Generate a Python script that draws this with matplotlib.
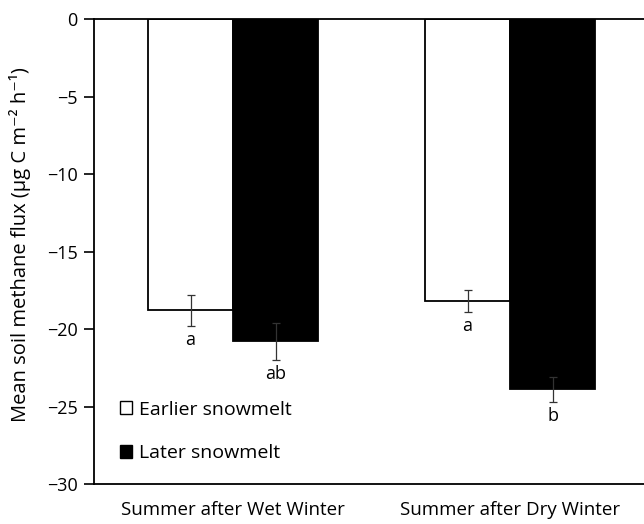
import matplotlib
matplotlib.use("Agg")
import matplotlib.pyplot as plt
import numpy as np
from matplotlib.patches import Patch

plt.rcParams['font.family'] = ['Open Sans', 'DejaVu Sans']

# data
groups = ["Summer after Wet Winter", "Summer after Dry Winter"]
earlier_mean = [-18.8, -18.2]
earlier_err = [1.0, 0.7]
later_mean = [-20.8, -23.9]
later_err = [1.2, 0.8]
earlier_letters = ["a", "a"]
later_letters = ["ab", "b"]
y_ticks = [0, -5, -10, -15, -20, -25, -30]

fig = plt.figure(figsize=(6.44, 5.24), dpi=100)
ax = fig.add_axes([0.146, 0.0763, 0.854, 0.8874])

gap = 3.26
x_early = np.arange(len(groups)) * gap
x_late = x_early + 1.0

ax.bar(x_early, earlier_mean, width=1.0, color="white", edgecolor="black",
       linewidth=1.3, zorder=2)
ax.bar(x_late, later_mean, width=1.0, color="black", edgecolor="black",
       linewidth=1.3, zorder=2)
ax.errorbar(x_early, earlier_mean, yerr=earlier_err, fmt="none",
            ecolor="#333333", elinewidth=0.9, capsize=3, capthick=0.9, zorder=3)
ax.errorbar(x_late, later_mean, yerr=later_err, fmt="none",
            ecolor="#333333", elinewidth=0.9, capsize=3, capthick=0.9, zorder=3)

for i in range(len(groups)):
    ax.text(x_early[i], earlier_mean[i] - earlier_err[i] - 0.3,
            earlier_letters[i], ha="center", va="top", fontsize=13)
    ax.text(x_late[i], later_mean[i] - later_err[i] - 0.3,
            later_letters[i], ha="center", va="top", fontsize=13)

ax.set_xlim(-1.135, 5.335)
ax.set_ylim(-30, 0)
ax.set_yticks(y_ticks)
ax.set_yticklabels(["0" if t == 0 else "\u2212{}".format(-t) for t in y_ticks],
                   fontsize=13)
ax.set_xticks((x_early + x_late) / 2)
ax.set_xticklabels(groups, fontsize=13.5)
ax.tick_params(axis="x", length=0, pad=12)
ax.tick_params(axis="y", length=7, width=1.2, direction="out", pad=5)

ax.spines["right"].set_visible(False)
for s in ["top", "bottom", "left"]:
    ax.spines[s].set_linewidth(1.3)

ax.set_ylabel("Mean soil methane flux (\u03bcg C m\u207b\u00b2 h\u207b\u00b9)",
              fontsize=14.5)
ax.yaxis.set_label_coords(-0.115, 0.515)

handles = [Patch(facecolor="white", edgecolor="black", linewidth=1.0),
           Patch(facecolor="black", edgecolor="black", linewidth=1.0)]
ax.legend(handles, ["Earlier snowmelt", "Later snowmelt"], loc="lower left",
          bbox_to_anchor=(0.015, 0.01), frameon=False, fontsize=14,
          handlelength=0.65, handleheight=0.65, handletextpad=0.35,
          labelspacing=1.3)

fig.savefig("out.png", dpi=100)
